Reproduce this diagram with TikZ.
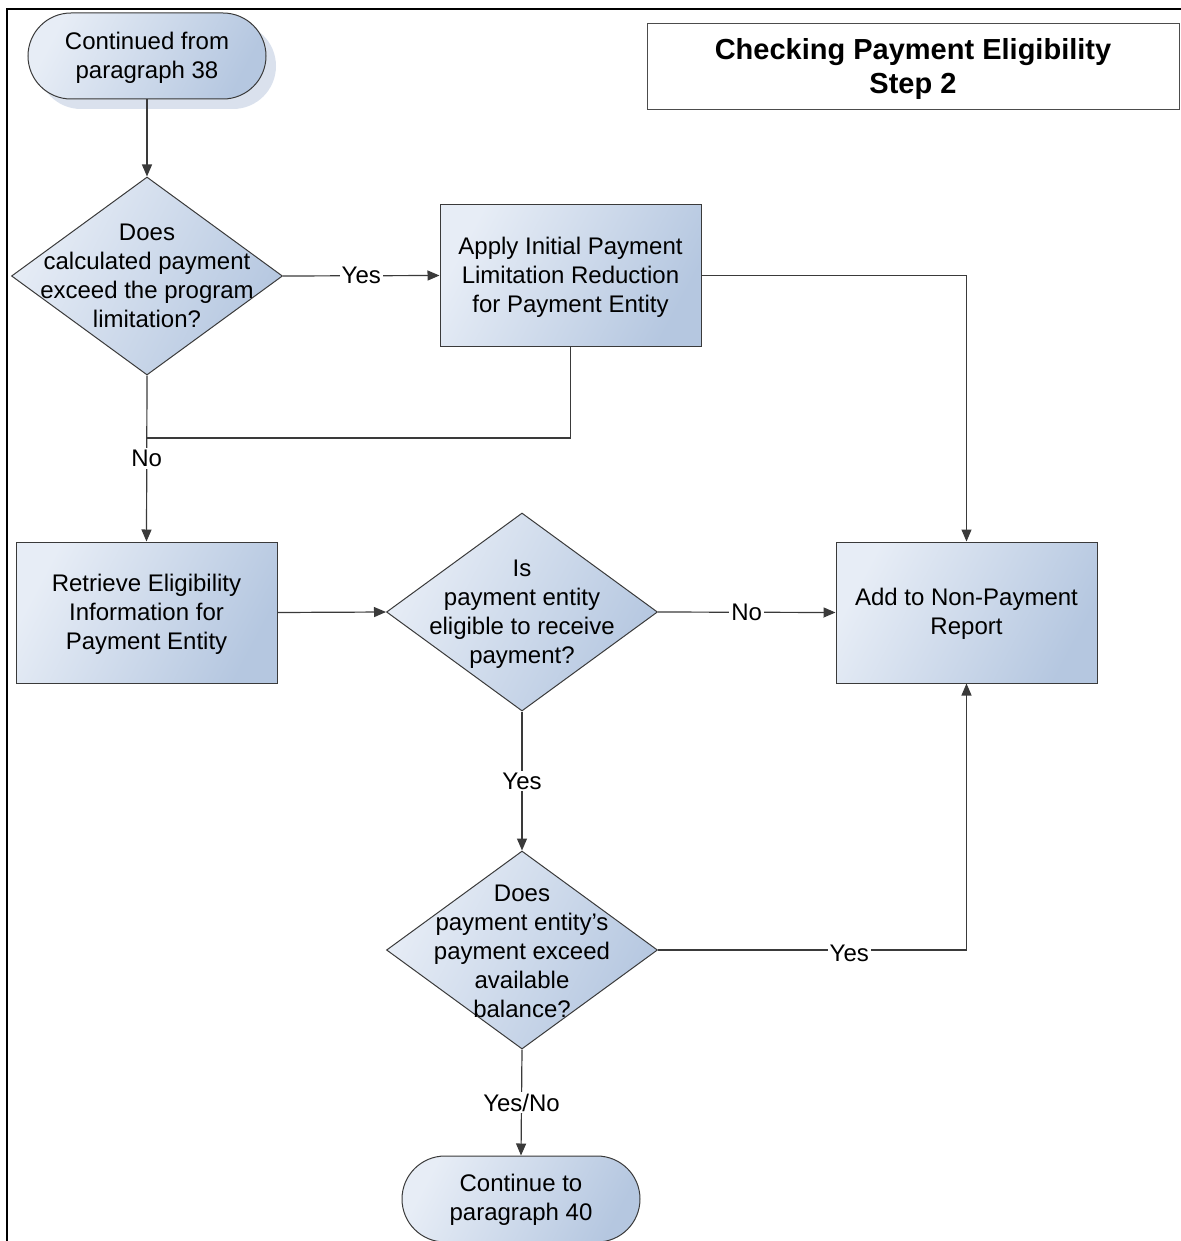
\documentclass[tikz,border=0pt]{standalone}
\usepackage{fontspec}
\setmainfont{Liberation Sans}
\usetikzlibrary{shapes.geometric,arrows.meta,shadows}
\definecolor{lite}{HTML}{E7EDF6}
\definecolor{dark}{HTML}{B5C7E0}
\definecolor{edge}{HTML}{3A3A3A}
\definecolor{shad}{HTML}{D6DEEB}
\begin{document}
\begin{tikzpicture}[x=0.5pt,y=-0.5pt,
  every node/.style={font=\fontsize{12}{14.5}\selectfont},
  grad/.style={left color=lite, right color=dark, shading angle=62},
  proc/.style={draw=edge, line width=0.5pt, grad,
    minimum width=130.5pt, minimum height=70.5pt, inner sep=0, align=center},
  dia/.style={diamond, draw=edge, line width=0.5pt, grad,
    minimum width=135.5pt, minimum height=99pt, inner sep=0},
  term/.style={draw=edge, line width=0.5pt, rounded corners=21.5pt, grad,
    minimum width=119pt, minimum height=43pt, inner sep=0, align=center},
  txt/.style={align=center, inner sep=0},
  conn/.style={draw=edge, line width=0.6pt},
  arr/.style={conn, -{Triangle[length=6pt,width=5pt]}},
  lbl/.style={fill=white, inner sep=1pt}]
\useasboundingbox (0,0) rectangle (1181,1241);
\draw[line width=1.2pt] (7,1245) -- (7,9) -- (1185,9);

\node[term, drop shadow={shadow xshift=5pt, shadow yshift=-5pt, fill=shad, opacity=0.9}] (start) at (147,56) {};
\node[txt] (startt) at (147,58) {Continued from\\paragraph 38};
\node[draw=black!70, line width=0.5pt, minimum width=266pt, minimum height=43pt, align=center,
  font=\bfseries\fontsize{14.5}{17}\selectfont] (title) at (913,67) {};
\node[txt, font=\bfseries\fontsize{14.5}{17}\selectfont] (titlet) at (913,69) {Checking Payment Eligibility\\Step 2};

\node[dia] (d1) at (147,276) {};
\node[txt] (d1t) at (147,276) {Does\\calculated payment\\exceed the program\\limitation?};
\node[proc] (A) at (570.5,275.5) {};
\node[txt] (At) at (570.5,277) {Apply Initial Payment\\Limitation Reduction\\for Payment Entity};
\node[proc] (R) at (146.5,612.5) {};
\node[txt] (Rt) at (146.5,614) {Retrieve Eligibility\\Information for\\Payment Entity};
\node[dia] (d2) at (522,612) {};
\node[txt] (d2t) at (522,614) {Is\\payment entity\\eligible to receive\\payment?};
\node[proc] (N) at (966.5,612.5) {};
\node[txt] (Nt) at (966.5,614) {Add to Non-Payment\\Report};
\node[dia] (d3) at (522,950) {};
\node[txt] (d3t) at (522,951) {Does\\payment entity’s\\payment exceed\\available\\balance?};
\node[term] (end) at (521,1199) {};
\node[txt] (endt) at (521,1200) {Continue to\\paragraph 40};
\coordinate (j) at (147,438);

\draw[arr] (start) -- (d1);
\draw[arr] (d1.east) -- node[lbl]{Yes} (A.west);
\draw[arr] (A.east) -| (N.north);
\draw[conn] (A.south) |- (j);
\draw[arr] (d1.south) -- node[lbl]{No} (R.north);
\draw[arr] (R.east) -- (d2.west);
\draw[arr] (d2.east) -- node[lbl]{No} (N.west);
\draw[arr] (d2.south) -- node[lbl]{Yes} (d3.north);
\draw[arr] (d3.east) -| node[lbl, pos=0.31, yshift=-1.5pt]{Yes} (N.south);
\draw[arr] (d3.south) -- node[lbl]{Yes/No} (end.north);
\end{tikzpicture}
\end{document}
